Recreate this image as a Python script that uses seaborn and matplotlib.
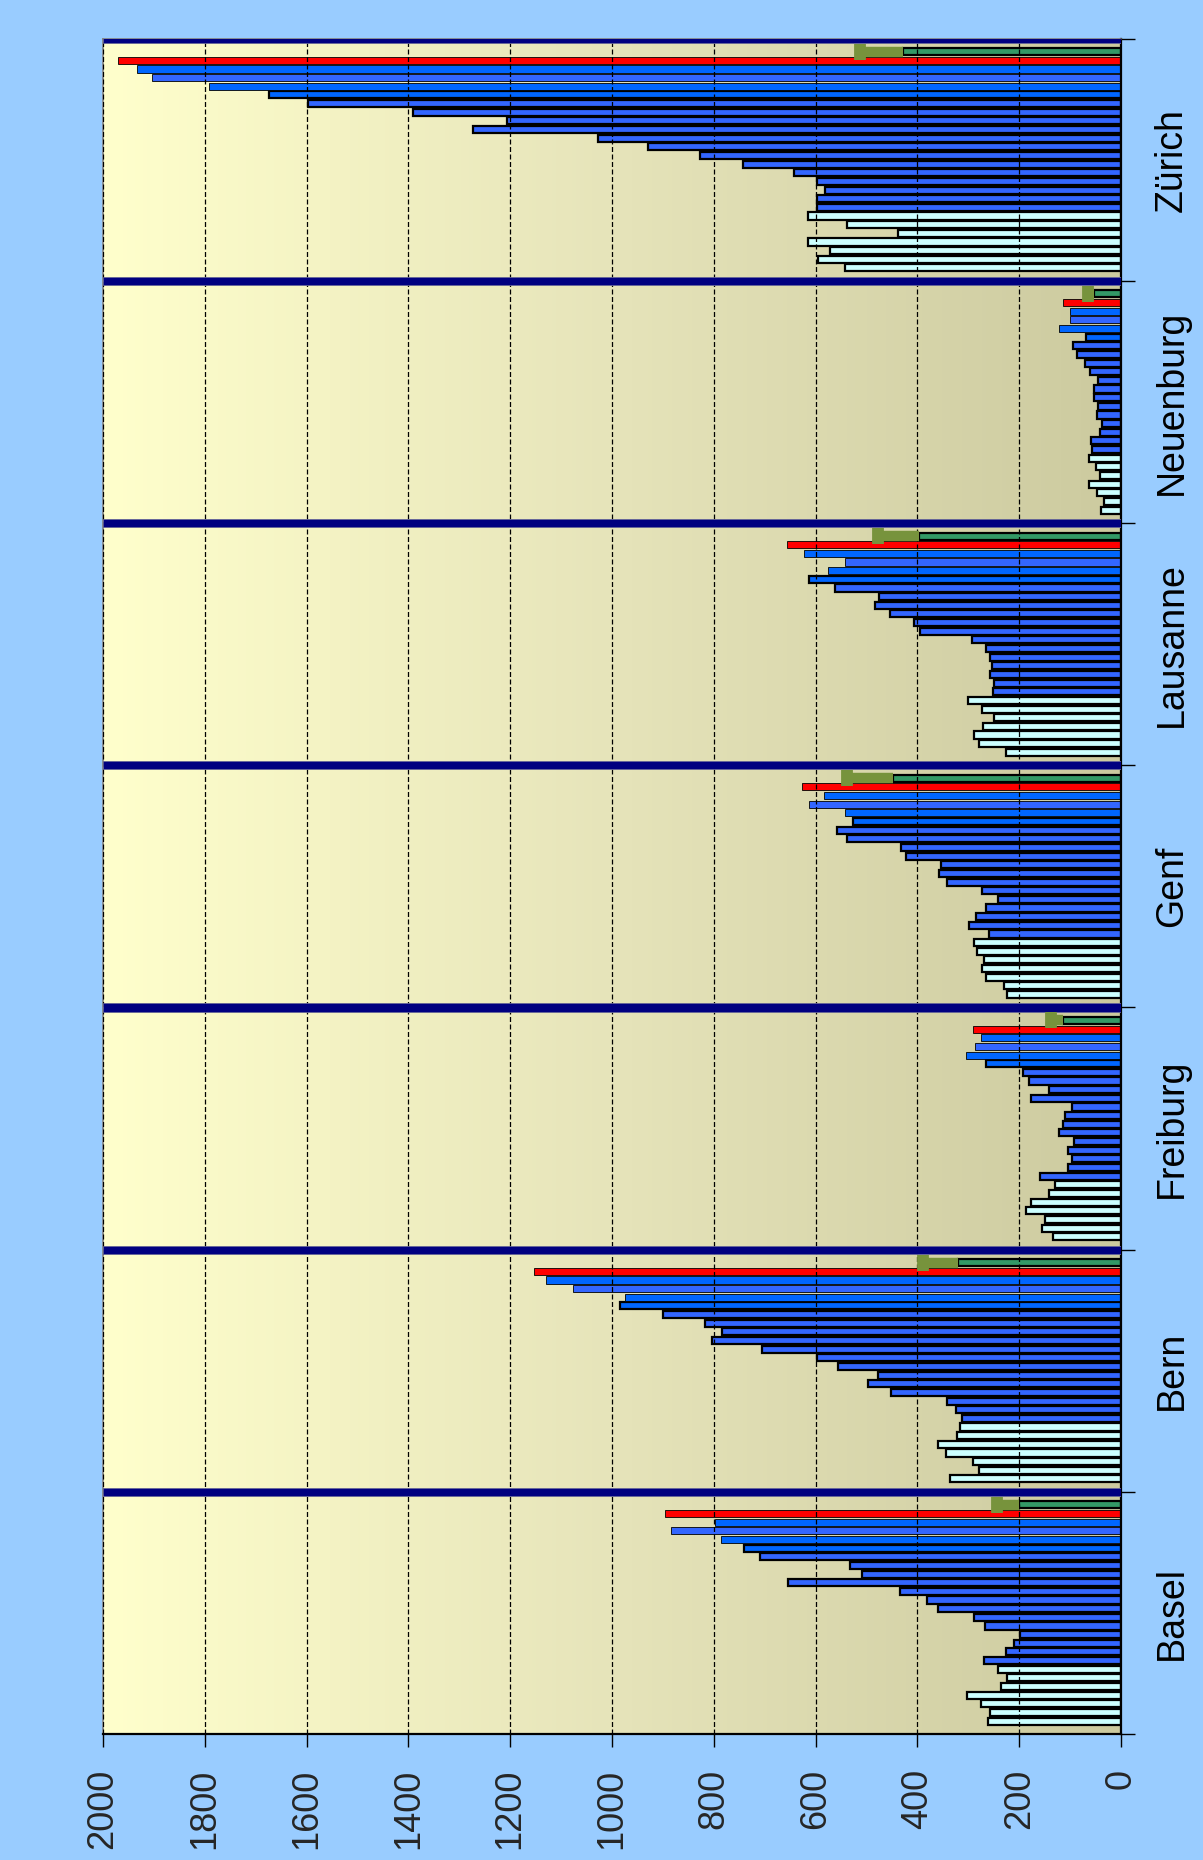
import numpy as np
import pandas as pd
import matplotlib
matplotlib.use("Agg")
import matplotlib.pyplot as plt
import matplotlib.transforms as mtransforms
from matplotlib.colors import LinearSegmentedColormap
import seaborn as sns

# ─── Data (per city, in original left-to-right order) ────────────────────────
cities = ["Basel", "Bern", "Freiburg", "Genf", "Lausanne", "Neuenburg", "Zürich"]

cyan_values = [
    [262, 258, 274, 302, 235, 223, 242],
    [335, 279, 290, 344, 360, 322, 316],
    [134, 155, 149, 187, 177, 141, 130],
    [223, 230, 266, 273, 270, 282, 289],
    [226, 278, 289, 272, 249, 273, 301],
    [40, 33, 47, 63, 41, 50, 63],
    [543, 595, 572, 615, 439, 539, 615],
]
blue_values = [
    [269, 225, 210, 198, 267, 289, 359, 382, 434, 654, 509, 532, 710, 741, 785, 884, 797],
    [312, 325, 342, 451, 496, 477, 556, 598, 706, 803, 784, 817, 899, 984, 975, 1077, 1129],
    [160, 105, 97, 105, 93, 121, 113, 109, 97, 177, 141, 181, 193, 266, 304, 286, 275],
    [260, 298, 285, 265, 242, 273, 342, 357, 354, 422, 433, 539, 558, 527, 543, 612, 584],
    [252, 250, 257, 253, 257, 265, 293, 394, 406, 453, 484, 476, 561, 613, 576, 543, 623],
    [57, 58, 41, 38, 47, 45, 52, 53, 45, 61, 70, 87, 95, 68, 121, 101, 101],
    [598, 598, 581, 598, 643, 743, 828, 929, 1027, 1274, 1206, 1391, 1597, 1673, 1791, 1903, 1934],
]
red_values = [896, 1153, 291, 627, 656, 113, 1970]
green_values = [201, 321, 113, 448, 397, 53, 429]
green_err = [42, 67, 25, 90, 81, 11, 83]

value_ticks = list(range(0, 2001, 200))

# ─── Colours ─────────────────────────────────────────────────────────────────
BG = "#99CCFF"
CYAN = "#CCFFFF"
BLUE = "#3366FF"
BLUE_BRIGHT = "#0066FF"
RED = "#FF0000"
GREEN = "#339966"
OLIVE = "#77933C"
NAVY = "#000080"
BRIGHT_IDX = {13, 14, 16}

SLOTS = 28  # 26 bars + 2 spacer slots per city

# long-form table
rows = []
for k, city in enumerate(cities):
    series = ([(v, CYAN, 1.6) for v in cyan_values[k]]
              + [(v, BLUE_BRIGHT if j in BRIGHT_IDX else BLUE, 0.6 if j >= 14 else 1.6)
                 for j, v in enumerate(blue_values[k])]
              + [(red_values[k], RED, 0.6), (green_values[k], GREEN, 1.6)])
    for i, (v, c, lw) in enumerate(series):
        rows.append({"city": city, "pos": SLOTS * k + i, "value": v, "color": c, "lw": lw})
df = pd.DataFrame(rows)

sns.set_theme(style="white")
plt.rcParams["font.family"] = ["Liberation Sans", "DejaVu Sans"]

fig = plt.figure(figsize=(12.03, 18.6), dpi=100, facecolor=BG)
ax = fig.add_axes([0.0856, 0.0677, 0.8462, 0.9115])

ylo, yhi = -1.5, SLOTS * len(cities) - 1.5

# gradient plot background
cmap = LinearSegmentedColormap.from_list("bg", ["#CCCA9F", "#E6E4BA", "#FFFFCC"])
ax.imshow(np.linspace(0, 1, 256).reshape(1, -1), cmap=cmap, aspect="auto",
          extent=(0, 2000, ylo, yhi), zorder=0)

ax.barh(df["pos"], df["value"], height=0.82, color=df["color"],
        edgecolor="black", linewidth=df["lw"], zorder=2)

# separators between cities
sep_pos = [SLOTS * k + 26.5 for k in range(len(cities))]
ax.barh(sep_pos, [2000] * len(sep_pos), height=0.95, color=NAVY,
        edgecolor="#666699", linewidth=0.6, zorder=3)

# olive error bars on the green bars (cap only at the outer end)
green_pos = [SLOTS * k + 25 for k in range(len(cities))]
_, caps, _ = ax.errorbar(green_values, green_pos,
                         xerr=[np.zeros(len(green_err)), green_err],
                         fmt="none", ecolor=OLIVE, elinewidth=7.5, capsize=6,
                         capthick=8.5, zorder=4)
caps[0].set_visible(False)

ax.set_xlim(2000, 0)
ax.set_ylim(ylo, yhi)

ax.set_xticks(value_ticks)
ax.set_xticklabels([str(t) for t in value_ticks], rotation=90, fontsize=26)
ax.xaxis.grid(True, linestyle=(0, (4, 2)), color="black", linewidth=0.9)
ax.yaxis.grid(False)
ax.set_axisbelow(False)
for gl in ax.get_xgridlines():
    gl.set_zorder(1)

ax.yaxis.tick_right()
ax.set_yticks([ylo] + sep_pos)
ax.set_yticklabels([])
ax.tick_params(axis="x", direction="out", length=9, width=1.0, color="black", pad=16, bottom=True)
ax.tick_params(axis="y", direction="out", length=10, width=1.0, color="black", right=True, left=False)

for side in ["left", "top"]:
    ax.spines[side].set_color("#808080")
    ax.spines[side].set_linewidth(1.2)
for side in ["bottom", "right"]:
    ax.spines[side].set_color("black")
    ax.spines[side].set_linewidth(1.6)

trans = mtransforms.blended_transform_factory(ax.transAxes, ax.transData)
for k, city in enumerate(cities):
    ax.text(1.050, SLOTS * k + 12.5, city, transform=trans, rotation=90,
            ha="center", va="center", fontsize=27, color="black")

fig.savefig("out.png", dpi=100, facecolor=fig.get_facecolor())
